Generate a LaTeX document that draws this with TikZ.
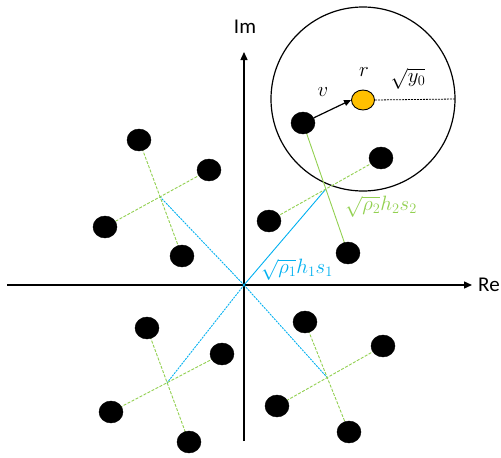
\documentclass[tikz,border=0pt]{standalone}
\usepackage{fontspec}
\newfontfamily\calibri{Carlito}
\usetikzlibrary{arrows.meta,positioning,calc,shapes.geometric}
\definecolor{lgreen}{HTML}{92D050}
\definecolor{lblue}{HTML}{00B0F0}
\definecolor{lorange}{HTML}{FFC000}
\tikzset{
  symb/.style={draw, ellipse, fill=black, minimum width=24pt, minimum height=22pt, inner sep=0pt},
  rxnode/.style={draw, ellipse, fill=lorange, line width=0.9pt, minimum width=23pt, minimum height=20pt, inner sep=0pt},
  axline/.style={-{Triangle[length=8pt,width=7pt]}, line width=1.4pt},
  grline/.style={lgreen, dash pattern=on 3pt off 1.5pt, line width=0.9pt},
  blline/.style={lblue, dash pattern=on 2pt off 1pt, line width=0.9pt},
  axlabel/.style={font=\calibri\fontsize{21}{25}\selectfont, inner sep=0pt},
  mlabel/.style={font=\fontsize{21.5}{26}\selectfont, inner sep=0pt},
}

\begin{document}
\begin{tikzpicture}[x=1pt, y=-1pt]
  \useasboundingbox (0,0) rectangle (501,458);
  % axes
  \coordinate (xl) at (7,285);
  \coordinate (xr) at (472,285);
  \coordinate (yb) at (244,441);
  \coordinate (yt) at (244,52);
  \coordinate (O) at (244,285);
  \draw[axline] (xl) -- (xr);
  \draw[axline] (yb) -- (yt);
  \node[axlabel, anchor=west] (relab) at (478,285) {Re};
  \node[axlabel] (imlab) at (245,27) {Im};

  % decision region round the received point
  \node[draw, circle, line width=1.2pt, minimum size=184pt, inner sep=0pt] (region) at (363,99) {};
  \node[rxnode] (rx) at (363,100) {};
  \draw[dash pattern=on 2pt off 1pt, line width=0.8pt] (rx.east) -- (region.east);

  % symbol positions
  \coordinate (p11) at (139,140);
  \coordinate (p12) at (209,170);
  \coordinate (p13) at (105,227);
  \coordinate (p14) at (182,256);
  \coordinate (p21) at (303,123);
  \coordinate (p22) at (381,158);
  \coordinate (p23) at (269,221);
  \coordinate (p24) at (348,253);
  \coordinate (p31) at (147,328);
  \coordinate (p32) at (222,354);
  \coordinate (p33) at (111,412);
  \coordinate (p34) at (189,442);
  \coordinate (p41) at (305,322);
  \coordinate (p42) at (383,346);
  \coordinate (p43) at (277,406);
  \coordinate (p44) at (349,432);
  \coordinate (c1) at (intersection of p11--p14 and p12--p13);
  \coordinate (c2) at (intersection of p21--p24 and p22--p23);
  \coordinate (c3) at (intersection of p31--p34 and p32--p33);
  \coordinate (c4) at (intersection of p41--p44 and p42--p43);

  % first user
  \draw[blline] (O) -- (c1);
  \draw[lblue, line width=0.9pt] (O) -- (c2);
  \draw[blline] (O) -- (c3);
  \draw[blline] (O) -- (c4);

  % second user
  \draw[grline] (p11) -- (p14);
  \draw[grline] (p12) -- (p13);
  \draw[lgreen, line width=0.9pt] (p21) -- (p24);
  \draw[grline] (p22) -- (p23);
  \draw[grline] (p31) -- (p34);
  \draw[grline] (p32) -- (p33);
  \draw[grline] (p41) -- (p44);
  \draw[grline] (p42) -- (p43);

  \node[symb] (s11) at (p11) {};
  \node[symb] (s12) at (p12) {};
  \node[symb] (s13) at (p13) {};
  \node[symb] (s14) at (p14) {};
  \node[symb] (s21) at (p21) {};
  \node[symb] (s22) at (p22) {};
  \node[symb] (s23) at (p23) {};
  \node[symb] (s24) at (p24) {};
  \node[symb] (s31) at (p31) {};
  \node[symb] (s32) at (p32) {};
  \node[symb] (s33) at (p33) {};
  \node[symb] (s34) at (p34) {};
  \node[symb] (s41) at (p41) {};
  \node[symb] (s42) at (p42) {};
  \node[symb] (s43) at (p43) {};
  \node[symb] (s44) at (p44) {};

  % noise vector
  \draw[-{Triangle[length=7pt,width=6pt]}, line width=1.2pt] (s21) -- (rx.west);

  % labels
  \node[mlabel, text=lblue] (lab1) at (297,270) {$\sqrt{\rho_1}h_1s_1$};
  \node[mlabel, text=lgreen] (lab2) at (381,207) {$\sqrt{\rho_2}h_2s_2$};
  \node[mlabel] (vlab) at (323,92) {$v$};
  \node[mlabel] (rlab) at (364,72) {$r$};
  \node[mlabel] (ylab) at (408,79) {$\sqrt{y_0}$};
\end{tikzpicture}
\end{document}
